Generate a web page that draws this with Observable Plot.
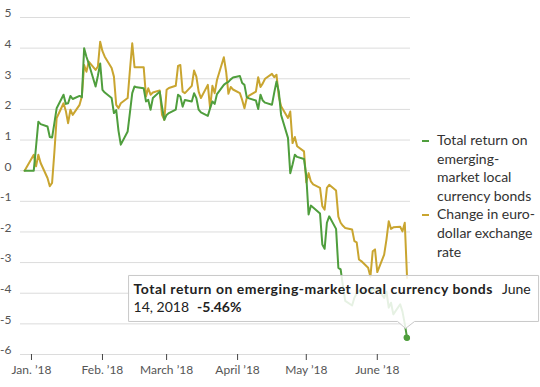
<!DOCTYPE html>
<html>
<head>
<meta charset="utf-8">
<script src="https://cdn.jsdelivr.net/npm/d3@7"></script>
<script src="https://cdn.jsdelivr.net/npm/@observablehq/plot@0.6"></script>
<style>
  html, body { margin: 0; padding: 0; background: #fff; }
  #wrap { position: relative; width: 540px; height: 387px; font-family: Lato, "Noto Sans", sans-serif; }
  #legend { position: absolute; left: 422px; top: 131px; font-size: 14px; line-height: 18.6px; color: #333; }
  .item { position: relative; padding-left: 15px; }
  .dash { position: absolute; left: 0; top: 9px; width: 7px; height: 2px; }
</style>
</head>
<body>
<div id="wrap"><div id="legend"></div></div>
<script>
const dates = [
  "2017-12-29","2018-01-02","2018-01-03","2018-01-04","2018-01-05",
  "2018-01-08","2018-01-09","2018-01-10","2018-01-11","2018-01-12",
  "2018-01-15","2018-01-16","2018-01-17","2018-01-18","2018-01-19",
  "2018-01-22","2018-01-23","2018-01-24","2018-01-25","2018-01-26",
  "2018-01-29","2018-01-30","2018-01-31","2018-02-01","2018-02-02",
  "2018-02-05","2018-02-06","2018-02-07","2018-02-08","2018-02-09",
  "2018-02-12","2018-02-13","2018-02-14","2018-02-15","2018-02-16",
  "2018-02-19","2018-02-20","2018-02-21","2018-02-22","2018-02-23",
  "2018-02-26","2018-02-27","2018-02-28","2018-03-01","2018-03-02",
  "2018-03-05","2018-03-06","2018-03-07","2018-03-08","2018-03-09",
  "2018-03-12","2018-03-13","2018-03-14","2018-03-15","2018-03-16",
  "2018-03-19","2018-03-20","2018-03-21","2018-03-22","2018-03-23",
  "2018-03-26","2018-03-27","2018-03-28","2018-03-29","2018-03-30",
  "2018-04-02","2018-04-03","2018-04-04","2018-04-05","2018-04-06",
  "2018-04-09","2018-04-10","2018-04-11","2018-04-12","2018-04-13",
  "2018-04-16","2018-04-17","2018-04-18","2018-04-19","2018-04-20",
  "2018-04-23","2018-04-24","2018-04-25","2018-04-26","2018-04-27",
  "2018-04-30","2018-05-01","2018-05-02","2018-05-03","2018-05-04",
  "2018-05-07","2018-05-08","2018-05-09","2018-05-10","2018-05-11",
  "2018-05-14","2018-05-15","2018-05-16","2018-05-17","2018-05-18",
  "2018-05-21","2018-05-22","2018-05-23","2018-05-24","2018-05-25",
  "2018-05-28","2018-05-29","2018-05-30","2018-05-31","2018-06-01",
  "2018-06-04","2018-06-05","2018-06-06","2018-06-07","2018-06-08",
  "2018-06-11","2018-06-12","2018-06-13","2018-06-14"
];

const bondReturn = [
  0.00, 0.00, 0.79, 1.60, 1.52,
  1.44, 1.10, 1.08, 1.55, 2.04,
  2.48, 2.18, 2.20, 2.44, 2.34,
  2.44, 2.40, 4.00, 3.72, 3.50,
  2.75, 3.10, 3.50, 2.64, 2.55,
  2.37, 1.88, 1.98, 1.30, 0.85,
  1.28, 1.90, 2.53, 2.75, 2.72,
  2.69, 2.26, 2.31, 1.99, 2.37,
  2.58, 2.09, 1.66, 1.82, 1.88,
  1.99, 2.48, 2.42, 2.09, 2.31,
  2.26, 2.53, 2.37, 1.99, 1.90,
  1.79, 2.04, 2.26, 2.18, 2.50,
  2.80, 2.86, 2.90, 2.98, 3.04,
  3.09, 2.86, 2.80, 2.40, 2.36,
  2.29, 2.01, 2.48, 2.29, 2.22,
  2.15, 2.55, 2.91, 2.58, 1.82,
  1.07, -0.08, 0.20, 0.52, 0.45,
  0.38, -0.18, -1.43, -1.14, -1.20,
  -1.40, -2.41, -2.55, -1.70, -1.49,
  -1.90, -3.17, -3.22, -3.77, -4.25,
  -4.40, -4.15, -4.00, -3.93, -4.00,
  -3.88, -3.95, -3.85, -3.90, -3.82,
  -4.15, -3.95, -4.47, -4.31, -4.69,
  -4.36, -4.60, -5.00, -5.46
];

const euroDollar = [
  0.00, 0.52, 0.14, 0.52, 0.25,
  -0.24, -0.51, -0.40, 0.60, 1.72,
  2.20, 1.95, 1.55, 1.99, 1.82,
  2.15, 2.42, 3.45, 3.23, 3.56,
  3.29, 3.40, 4.21, 3.90, 3.72,
  3.35, 3.07, 2.15, 2.04, 2.20,
  2.37, 3.29, 4.16, 3.38, 3.38,
  3.38, 2.42, 2.69, 2.48, 2.55,
  2.62, 1.82, 1.66, 2.64, 2.70,
  2.77, 3.42, 3.45, 2.58, 2.53,
  2.77, 3.27, 3.07, 2.58, 2.37,
  2.80, 2.04, 2.77, 2.53, 2.96,
  3.70, 3.23, 2.51, 2.73, 2.65,
  2.53, 2.31, 2.04, 2.37, 2.45,
  2.58, 3.05, 2.73, 2.85, 3.00,
  3.16, 3.05, 3.13, 2.42, 2.10,
  1.72, 1.93, 0.90, 1.10, 0.80,
  0.63, -0.38, -0.08, -0.35, -0.45,
  -0.56, -1.16, -1.27, -0.56, -0.46,
  -0.65, -1.50, -1.70, -1.80, -1.87,
  -1.92, -2.30, -2.34, -2.90, -2.95,
  -3.17, -3.46, -2.63, -2.57, -3.31,
  -2.74, -2.25, -1.65, -1.90, -1.85,
  -1.83, -1.98, -1.70, -3.50
];

const seriesNames = [
  "Total return on emerging-market local currency bonds",
  "Change in euro-dollar exchange rate"
];
const legendLines = [
  ["Total return on", "emerging-", "market local", "currency bonds"],
  ["Change in euro-", "dollar exchange", "rate"]
];
const seriesColors = ["#4f9e3d", "#c9a530"];

const yTicks = [5, 4, 3, 2, 1, 0, -1, -2, -3, -4, -5, -6];
const monthTicks = ["2018-01-01","2018-02-01","2018-03-01","2018-04-01","2018-05-01","2018-06-01"];
const monthLabels = ["Jan. \u201918", "Feb. \u201918", "March \u201918", "April \u201918", "May \u201918", "June \u201918"];

const tipDate = "June 14, 2018";
const tipValue = "-5.46%";

(function () {
const parse = d3.utcParse("%Y-%m-%d");
const bondData = dates.map((d, i) => ({date: parse(d), value: bondReturn[i]}));
const euroData = dates.map((d, i) => ({date: parse(d), value: euroDollar[i]}));
const tickDates = monthTicks.map(parse);

const chart = Plot.plot({
  width: 540,
  height: 387,
  marginLeft: 20,
  marginRight: 130,
  marginTop: 17,
  marginBottom: 33,
  style: {fontFamily: "Lato, 'Noto Sans', sans-serif", background: "transparent", overflow: "visible"},
  x: {type: "utc", domain: [new Date(Date.UTC(2017, 11, 27, 5)), new Date(Date.UTC(2018, 5, 15, 12))]},
  y: {domain: [-6, 5]},
  marks: [
    Plot.gridY(yTicks, {stroke: "#dcdcdc", strokeOpacity: 1, strokeWidth: 1}),
    Plot.axisY(yTicks, {tickSize: 0, tickPadding: 9, dy: -4, fontSize: 12, color: "#555", tickFormat: d => `${d}`, label: null}),
    Plot.axisX(tickDates, {tickSize: 6, tickPadding: 5, fontSize: 12, color: "#555", stroke: "#444", tickFormat: (d, i) => monthLabels[i], label: null}),
    Plot.line(euroData, {x: "date", y: "value", stroke: seriesColors[1], strokeWidth: 2}),
    Plot.line(bondData, {x: "date", y: "value", stroke: seriesColors[0], strokeWidth: 2}),
    Plot.dot(bondData.slice(-1), {x: "date", y: "value", fill: seriesColors[0], r: 3})
  ]
});

document.getElementById("wrap").prepend(chart);

// Tooltip anchored to the last bond point via Plot's scales
const last = bondData[bondData.length - 1];
const px = chart.scale("x").apply(last.date);
const py = chart.scale("y").apply(last.value);
const bx0 = px - 278, bx1 = px + 132, by0 = py - 62, by1 = py - 16;
const g = d3.select(chart).append("g").attr("text-anchor", "start");
g.append("path")
  .attr("d", `M${bx0},${by0}H${bx1}V${by1}H${px + 8}L${px - 1},${py - 9}L${px - 9},${by1}H${bx0}Z`)
  .attr("fill", "white").attr("fill-opacity", 0.86)
  .attr("stroke", "#c8c8c8").attr("stroke-width", 1);
const t = g.append("text").attr("font-size", 14).attr("fill", "#222")
  .attr("text-anchor", "start").attr("font-family", "Lato, 'Noto Sans', sans-serif");
const l1 = t.append("tspan").attr("x", bx0 + 5).attr("y", by0 + 19);
l1.append("tspan").attr("font-weight", "bold").attr("letter-spacing", 0.5).text(seriesNames[0]);
l1.append("tspan").attr("dx", 9).text(tipDate.split(" ")[0]);
const l2 = t.append("tspan").attr("x", bx0 + 5).attr("y", by0 + 37);
l2.append("tspan").text(tipDate.split(" ").slice(1).join(" "));
l2.append("tspan").attr("dx", 8).attr("font-weight", "bold").text(tipValue);
g.append("circle").attr("cx", px).attr("cy", py).attr("r", 3).attr("fill", seriesColors[0]);

// Legend
const legend = d3.select("#legend");
legendLines.forEach((lines, i) => {
  const item = legend.append("div").attr("class", "item");
  item.append("div").attr("class", "dash").style("background", seriesColors[i]);
  item.append("span").html(lines.join("<br>"));
});
})();
</script>
</body>
</html>
